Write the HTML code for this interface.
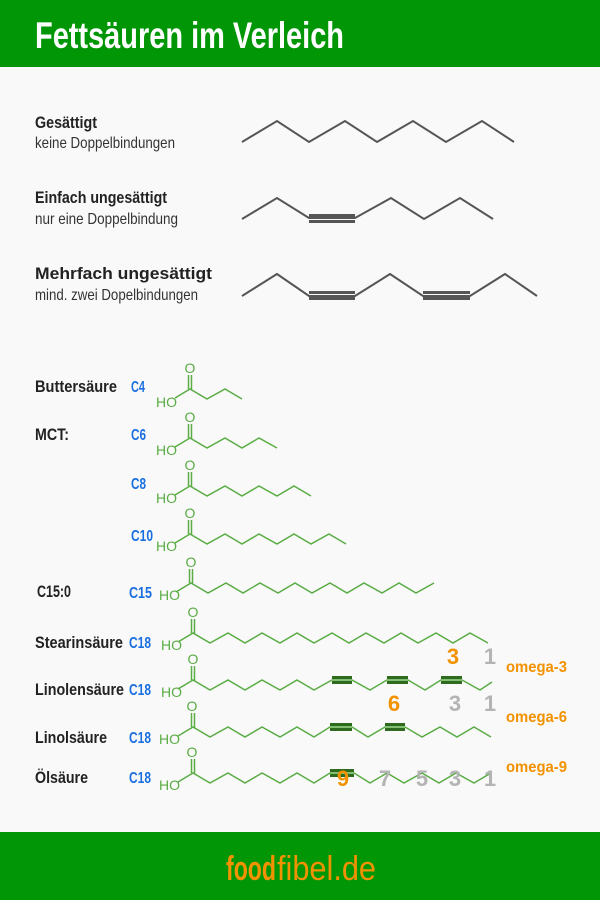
<!DOCTYPE html>
<html><head><meta charset="utf-8"><style>
html,body{margin:0;padding:0;background:#f9f9f9;}
svg{display:block}
text{font-family:"Liberation Sans",sans-serif}
</style></head><body>
<svg width="600" height="900" viewBox="0 0 600 900" xmlns="http://www.w3.org/2000/svg">
<rect width="600" height="900" fill="#f9f9f9"/>
<rect width="600" height="67" fill="#009606"/>
<text x="35" y="48" font-size="37" font-weight="bold" fill="#fff" textLength="309" lengthAdjust="spacingAndGlyphs">Fettsäuren im Verleich</text>
<rect y="832" width="600" height="68" fill="#009606"/>
<text x="226" y="880" font-size="34" fill="#f39200" font-weight="bold" textLength="50" lengthAdjust="spacingAndGlyphs">food</text>
<text x="277" y="880" font-size="34" fill="#f39200" textLength="99" lengthAdjust="spacingAndGlyphs">fibel.de</text>

<g fill="#222" font-size="17" font-weight="bold">
<text x="35" y="128" textLength="62" lengthAdjust="spacingAndGlyphs">Gesättigt</text>
<text x="35" y="203" textLength="132" lengthAdjust="spacingAndGlyphs">Einfach ungesättigt</text>
<text x="35" y="279" textLength="177" lengthAdjust="spacingAndGlyphs">Mehrfach ungesättigt</text>
<text x="35" y="392" textLength="82" lengthAdjust="spacingAndGlyphs">Buttersäure</text>
<text x="35" y="440" textLength="34" lengthAdjust="spacingAndGlyphs">MCT:</text>
<text x="37" y="597" textLength="34" lengthAdjust="spacingAndGlyphs">C15:0</text>
<text x="35" y="648" textLength="88" lengthAdjust="spacingAndGlyphs">Stearinsäure</text>
<text x="35" y="695" textLength="89" lengthAdjust="spacingAndGlyphs">Linolensäure</text>
<text x="35" y="743" textLength="72" lengthAdjust="spacingAndGlyphs">Linolsäure</text>
<text x="35" y="783" textLength="53" lengthAdjust="spacingAndGlyphs">Ölsäure</text>
</g>
<g fill="#333" font-size="16">
<text x="35" y="148" textLength="140" lengthAdjust="spacingAndGlyphs">keine Doppelbindungen</text>
<text x="35" y="224" textLength="143" lengthAdjust="spacingAndGlyphs">nur eine Doppelbindung</text>
<text x="35" y="300" textLength="163" lengthAdjust="spacingAndGlyphs">mind. zwei Dopelbindungen</text>
</g>
<g fill="#1a6fe0" font-size="16" font-weight="bold">
<text x="131" y="392" textLength="14" lengthAdjust="spacingAndGlyphs">C4</text>
<text x="131" y="440" textLength="15" lengthAdjust="spacingAndGlyphs">C6</text>
<text x="131" y="489" textLength="15" lengthAdjust="spacingAndGlyphs">C8</text>
<text x="131" y="541" textLength="22" lengthAdjust="spacingAndGlyphs">C10</text>
<text x="129" y="598" textLength="23" lengthAdjust="spacingAndGlyphs">C15</text>
<text x="129" y="648" textLength="22" lengthAdjust="spacingAndGlyphs">C18</text>
<text x="129" y="695" textLength="22" lengthAdjust="spacingAndGlyphs">C18</text>
<text x="129" y="743" textLength="22" lengthAdjust="spacingAndGlyphs">C18</text>
<text x="129" y="783" textLength="22" lengthAdjust="spacingAndGlyphs">C18</text>
</g>

<g fill="none" stroke="#555" stroke-width="2">
<polyline points="242,142 277,121 309,142 345,121 377,142 413,121 446,142 482,121 514,142"/>
<polyline points="242,219 277,198 309,218 355,218 391,198 424,219 460,198 493,219"/>
<polyline points="242,296 277,274 309,296 355,296 390,274 423,296 470,296 505,274 537,296"/>
</g>
<g fill="#555">
<rect x="309" y="214" width="46" height="3"/><rect x="309" y="220" width="46" height="3"/>
<rect x="309" y="291" width="46" height="3"/><rect x="309" y="297" width="46" height="3"/>
<rect x="423" y="291" width="47" height="3"/><rect x="423" y="297" width="47" height="3"/>
</g>

<g fill="none" stroke="#5aac44" stroke-width="1.5">
<polyline points="175,398 190,389 207,399 225,389 242,399"/>
<line x1="188.5" y1="375" x2="188.5" y2="389"/><line x1="191.5" y1="375" x2="191.5" y2="390"/>
<polyline points="175,447 190,438 207,448 225,438 242,448 259,438 277,448"/>
<line x1="188.5" y1="424" x2="188.5" y2="438"/><line x1="191.5" y1="424" x2="191.5" y2="439"/>
<polyline points="175,495 190,486 207,496 225,486 242,496 259,486 277,496 294,486 311,496"/>
<line x1="188.5" y1="472" x2="188.5" y2="486"/><line x1="191.5" y1="472" x2="191.5" y2="487"/>
<polyline points="175,543 190,534 207,544 225,534 242,544 259,534 277,544 294,534 311,544 329,534 346,544"/>
<line x1="188.5" y1="520" x2="188.5" y2="534"/><line x1="191.5" y1="520" x2="191.5" y2="535"/>
<polyline points="176,592 191,583 208,593 226,583 243,593 260,583 278,593 295,583 312,593 330,583 347,593 364,583 382,593 399,583 416,593 434,583"/>
<line x1="189.5" y1="569" x2="189.5" y2="583"/><line x1="192.5" y1="569" x2="192.5" y2="584"/>
<polyline points="178,642 193,633 210,643 228,633 245,643 262,633 280,643 297,633 314,643 332,633 349,643 366,633 384,643 401,633 418,643 436,633 453,643 470,633 488,643"/>
<line x1="191.5" y1="619" x2="191.5" y2="633"/><line x1="194.5" y1="619" x2="194.5" y2="634"/>
<polyline points="178,689 193,680 210,690 228,680 245,690 262,680 280,690 297,680 314,690 332,680 352,680 370,690 387,680 408,680 425,690 441,680 462,680 480,690 492,682"/>
<line x1="191.5" y1="666" x2="191.5" y2="680"/><line x1="194.5" y1="666" x2="194.5" y2="681"/>
<polyline points="178,736 193,727 210,737 228,727 245,737 262,727 280,737 297,727 314,737 330,727 352,727 368,737 385,727 405,727 422,737 440,727 457,737 474,727 491,737"/>
<line x1="191.5" y1="713" x2="191.5" y2="727"/><line x1="194.5" y1="713" x2="194.5" y2="728"/>
<polyline points="178,782 193,773 210,783 228,773 245,783 262,773 280,783 297,773 314,783 330,773 354,773 370,783 387,773 404,783 422,773 439,783 456,773 474,783 491,773"/>
<line x1="191.5" y1="759" x2="191.5" y2="773"/><line x1="194.5" y1="759" x2="194.5" y2="774"/>
</g>
<g fill="#2e6b1e">
<rect x="332" y="676" width="20" height="3"/><rect x="332" y="681" width="20" height="3"/>
<rect x="387" y="676" width="21" height="3"/><rect x="387" y="681" width="21" height="3"/>
<rect x="441" y="676" width="21" height="3"/><rect x="441" y="681" width="21" height="3"/>
<rect x="330" y="723" width="22" height="3"/><rect x="330" y="728" width="22" height="3"/>
<rect x="385" y="723" width="20" height="3"/><rect x="385" y="728" width="20" height="3"/>
<rect x="330" y="769" width="24" height="3"/><rect x="330" y="774" width="24" height="3"/>
</g>
<g fill="#5aac44" font-size="14">
<text x="156" y="407">HO</text>
<text x="156" y="455">HO</text>
<text x="156" y="503">HO</text>
<text x="156" y="551">HO</text>
<text x="159" y="600">HO</text>
<text x="161" y="650">HO</text>
<text x="161" y="697">HO</text>
<text x="159" y="744">HO</text>
<text x="159" y="790">HO</text>
<g text-anchor="middle">
<text x="190" y="373">O</text>
<text x="190" y="422">O</text>
<text x="190" y="470">O</text>
<text x="190" y="518">O</text>
<text x="191" y="567">O</text>
<text x="193" y="617">O</text>
<text x="193" y="664">O</text>
<text x="192" y="711">O</text>
<text x="192" y="757">O</text>
</g>
</g>

<g font-size="22" font-weight="bold" text-anchor="middle">
<text x="453" y="664" fill="#f39200">3</text>
<text x="490" y="664" fill="#b4b4b4">1</text>
<text x="394" y="711" fill="#f39200">6</text>
<text x="455" y="711" fill="#b4b4b4">3</text>
<text x="490" y="711" fill="#b4b4b4">1</text>
<text x="343" y="786" fill="#f39200">9</text>
<text x="385" y="786" fill="#b4b4b4">7</text>
<text x="422" y="786" fill="#b4b4b4">5</text>
<text x="455" y="786" fill="#b4b4b4">3</text>
<text x="490" y="786" fill="#b4b4b4">1</text>
</g>
<g fill="#f39200" font-size="16" font-weight="bold">
<text x="506" y="672" textLength="61" lengthAdjust="spacingAndGlyphs">omega-3</text>
<text x="506" y="722" textLength="61" lengthAdjust="spacingAndGlyphs">omega-6</text>
<text x="506" y="772" textLength="61" lengthAdjust="spacingAndGlyphs">omega-9</text>
</g>
</svg>
</body></html>
